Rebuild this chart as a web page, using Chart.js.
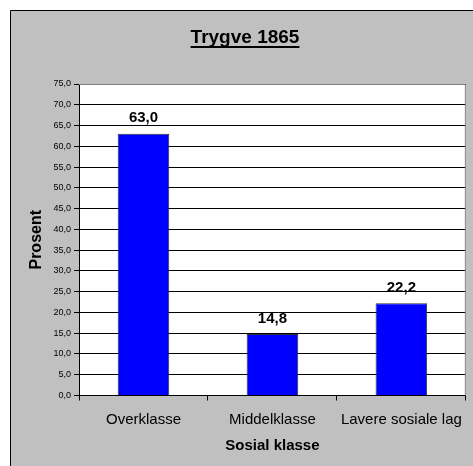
<!DOCTYPE html>
<html>
<head>
<meta charset="utf-8">
<script src="https://cdn.jsdelivr.net/npm/chart.js@4"></script>
<style>
  html, body { margin: 0; padding: 0; background: #fff; }
  #wrap { width: 473px; height: 466px; }
</style>
</head>
<body>
<div id="wrap"><canvas id="myChart" width="473" height="466"></canvas></div>
<script>
const chartTitle = "Trygve 1865";
const categories = ["Overklasse", "Middelklasse", "Lavere sosiale lag"];
const prosent = [63.0, 14.8, 22.2];
const yMin = 0;
const yMax = 75;
const yStep = 5;

const FONT = "'Liberation Sans', Arial, sans-serif";

function komma(v) {
    return Number(v).toFixed(1).replace(".", ",");
}

// gray frame, white plot area, title with underline
const frame = {
    id: "frame",
    beforeDraw(chart) {
        const c = chart.ctx;
        const a = chart.chartArea;
        c.save();
        c.fillStyle = "#fff";
        c.fillRect(0, 0, chart.width, chart.height);
        c.fillStyle = "#c0c0c0";
        c.fillRect(10, 10, chart.width - 10, chart.height - 10);
        c.strokeStyle = "#000";
        c.lineWidth = 1;
        c.beginPath();
        c.moveTo(10.5, chart.height);
        c.lineTo(10.5, 10.5);
        c.lineTo(chart.width, 10.5);
        c.stroke();
        c.fillStyle = "#fff";
        c.fillRect(a.left, a.top, a.right - a.left, a.bottom - a.top);

        c.font = "bold 19px " + FONT;
        c.fillStyle = "#000";
        c.textAlign = "center";
        c.textBaseline = "alphabetic";
        const tx = 245, ty = 43;
        c.fillText(chartTitle, tx, ty);
        const w = c.measureText(chartTitle).width;
        c.fillRect(tx - w / 2, ty + 3, w, 2);
        c.restore();
    },
    afterDatasetsDraw(chart) {
        const c = chart.ctx;
        const a = chart.chartArea;
        c.save();
        c.strokeStyle = "#808080";
        c.lineWidth = 1;
        c.beginPath();
        c.moveTo(a.left, a.top + 0.5);
        c.lineTo(a.right - 0.5, a.top + 0.5);
        c.lineTo(a.right - 0.5, a.bottom);
        c.stroke();

        // value labels
        const meta = chart.getDatasetMeta(0);
        c.font = "bold 15px " + FONT;
        c.fillStyle = "#000";
        c.textAlign = "center";
        c.textBaseline = "bottom";
        meta.data.forEach((bar, i) => {
            c.fillText(komma(prosent[i]), bar.x, bar.y - 8);
        });
        c.restore();
    }
};

const ctx = document.getElementById("myChart").getContext("2d");

const myChart = new Chart(ctx, {
    type: "bar",
    data: {
        labels: categories,
        datasets: [
            {
                label: "Prosent",
                data: prosent,
                backgroundColor: "#0000ff",
                borderColor: "#333333",
                borderWidth: 1,
                barPercentage: 0.4,
                categoryPercentage: 1.0
            }
        ]
    },
    options: {
        responsive: false,
        animation: false,
        devicePixelRatio: 1,
        layout: {
            padding: { left: 10, right: 7, top: 84, bottom: 0 }
        },
        plugins: {
            legend: { display: false },
            tooltip: { enabled: false },
            title: { display: false }
        },
        scales: {
            x: {
                afterFit(scale) { scale.height = 70.5; },
                grid: {
                    offset: true,
                    drawOnChartArea: false,
                    drawTicks: true,
                    tickLength: 5,
                    color: "#000"
                },
                border: { color: "#000", width: 1 },
                ticks: {
                    color: "#000",
                    padding: 10,
                    maxRotation: 0,
                    autoSkip: false,
                    font: { family: FONT, size: 15 }
                },
                title: {
                    display: true,
                    text: "Sosial klasse",
                    color: "#000",
                    padding: { top: 0, bottom: 11 },
                    font: { family: FONT, size: 15, weight: "bold" }
                }
            },
            y: {
                min: yMin,
                max: yMax,
                afterFit(scale) { scale.width = 69; },
                grid: {
                    color: "#000",
                    tickLength: 5,
                    drawTicks: true
                },
                border: { color: "#000", width: 1 },
                ticks: {
                    stepSize: yStep,
                    color: "#000",
                    padding: 3,
                    font: { family: FONT, size: 9 },
                    callback: (v) => komma(v)
                },
                title: {
                    display: true,
                    text: "Prosent",
                    color: "#000",
                    padding: { top: 17, bottom: 0 },
                    font: { family: FONT, size: 16, weight: "bold" }
                }
            }
        }
    },
    plugins: [frame]
});
</script>
</body>
</html>
